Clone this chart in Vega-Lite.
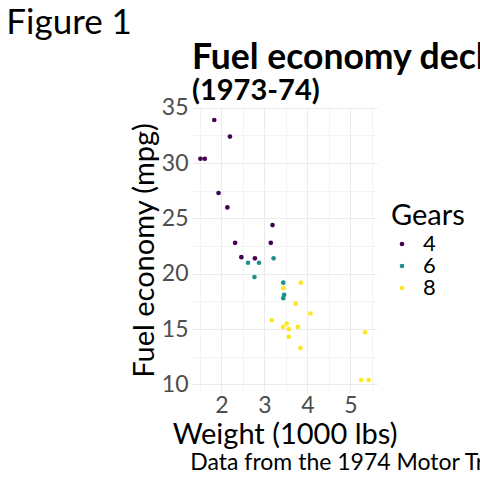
{
  "$schema": "https://vega.github.io/schema/vega-lite/v6.json",
  "padding": {"left": 6, "top": 6, "right": 0, "bottom": 0},
  "background": "white",
  "title": {"text": "Figure 1", "anchor": "start", "frame": "bounds", "fontSize": 35, "font": "Lato", "fontWeight": "normal", "color": "black", "dx": -124, "offset": 0},
  "vconcat": [
    {
      "title": {"text": "Data from the 1974 Motor Trend US magazine.", "orient": "bottom", "anchor": "start", "frame": "bounds", "dx": 60, "fontSize": 23, "font": "Lato", "fontWeight": "normal", "color": "black", "offset": 3},
      "vconcat": [
        {
          "title": {"text": "Fuel economy declined as weight increased", "subtitle": "(1973-74)", "anchor": "start", "frame": "group", "fontSize": 35.5, "font": "Lato", "fontWeight": "bold", "color": "black", "subtitleFont": "Lato", "subtitleFontSize": 29, "subtitleFontWeight": "bold", "subtitleColor": "black", "subtitlePadding": 0, "offset": -9},
          "width": 185,
          "height": 286,
          "data": {"values": [
            {"car": "Mazda RX4", "mpg": 21.0, "cyl": "6", "wt": 2.620},
            {"car": "Mazda RX4 Wag", "mpg": 21.0, "cyl": "6", "wt": 2.875},
            {"car": "Datsun 710", "mpg": 22.8, "cyl": "4", "wt": 2.320},
            {"car": "Hornet 4 Drive", "mpg": 21.4, "cyl": "6", "wt": 3.215},
            {"car": "Hornet Sportabout", "mpg": 18.7, "cyl": "8", "wt": 3.440},
            {"car": "Valiant", "mpg": 18.1, "cyl": "6", "wt": 3.460},
            {"car": "Duster 360", "mpg": 14.3, "cyl": "8", "wt": 3.570},
            {"car": "Merc 240D", "mpg": 24.4, "cyl": "4", "wt": 3.190},
            {"car": "Merc 230", "mpg": 22.8, "cyl": "4", "wt": 3.150},
            {"car": "Merc 280", "mpg": 19.2, "cyl": "6", "wt": 3.440},
            {"car": "Merc 280C", "mpg": 17.8, "cyl": "6", "wt": 3.440},
            {"car": "Merc 450SE", "mpg": 16.4, "cyl": "8", "wt": 4.070},
            {"car": "Merc 450SL", "mpg": 17.3, "cyl": "8", "wt": 3.730},
            {"car": "Merc 450SLC", "mpg": 15.2, "cyl": "8", "wt": 3.780},
            {"car": "Cadillac Fleetwood", "mpg": 10.4, "cyl": "8", "wt": 5.250},
            {"car": "Lincoln Continental", "mpg": 10.4, "cyl": "8", "wt": 5.424},
            {"car": "Chrysler Imperial", "mpg": 14.7, "cyl": "8", "wt": 5.345},
            {"car": "Fiat 128", "mpg": 32.4, "cyl": "4", "wt": 2.200},
            {"car": "Honda Civic", "mpg": 30.4, "cyl": "4", "wt": 1.615},
            {"car": "Toyota Corolla", "mpg": 33.9, "cyl": "4", "wt": 1.835},
            {"car": "Toyota Corona", "mpg": 21.5, "cyl": "4", "wt": 2.465},
            {"car": "Dodge Challenger", "mpg": 15.5, "cyl": "8", "wt": 3.520},
            {"car": "AMC Javelin", "mpg": 15.2, "cyl": "8", "wt": 3.435},
            {"car": "Camaro Z28", "mpg": 13.3, "cyl": "8", "wt": 3.840},
            {"car": "Pontiac Firebird", "mpg": 19.2, "cyl": "8", "wt": 3.845},
            {"car": "Fiat X1-9", "mpg": 27.3, "cyl": "4", "wt": 1.935},
            {"car": "Porsche 914-2", "mpg": 26.0, "cyl": "4", "wt": 2.140},
            {"car": "Lotus Europa", "mpg": 30.4, "cyl": "4", "wt": 1.513},
            {"car": "Ford Pantera L", "mpg": 15.8, "cyl": "8", "wt": 3.170},
            {"car": "Ferrari Dino", "mpg": 19.7, "cyl": "6", "wt": 2.770},
            {"car": "Maserati Bora", "mpg": 15.0, "cyl": "8", "wt": 3.570},
            {"car": "Volvo 142E", "mpg": 21.4, "cyl": "4", "wt": 2.780}
          ]},
          "mark": {"type": "circle", "size": 22, "opacity": 1},
          "encoding": {
            "x": {"field": "wt", "type": "quantitative", "title": "Weight (1000 lbs)",
              "scale": {"domain": [1.3175, 5.6196], "nice": false, "zero": false},
              "axis": {"values": [1.5, 2, 2.5, 3, 3.5, 4, 4.5, 5, 5.5], "format": "~g", "labelExpr": "datum.value % 1 === 0 ? datum.label : ''", "labelPadding": 1, "titlePadding": 3,
                "gridColor": {"condition": {"test": "datum.value % 1 !== 0", "value": "#F3F3F3"}, "value": "#EBEBEB"}}},
            "y": {"field": "mpg", "type": "quantitative", "title": "Fuel economy (mpg)",
              "scale": {"domain": [9.225, 35.075], "nice": false, "zero": false},
              "axis": {"values": [10, 12.5, 15, 17.5, 20, 22.5, 25, 27.5, 30, 32.5, 35], "format": "~g", "labelExpr": "datum.value % 5 === 0 ? datum.label : ''", "labelPadding": 4, "titlePadding": 2,
                "gridColor": {"condition": {"test": "datum.value % 5 !== 0", "value": "#F3F3F3"}, "value": "#EBEBEB"}}},
            "color": {"field": "cyl", "type": "nominal", "title": "Gears",
              "scale": {"domain": ["4", "6", "8"], "range": ["#440154", "#21908C", "#FDE725"]},
              "legend": {"orient": "none", "legendX": 199, "legendY": 95}}
          }
        }
      ]
    }
  ],
  "config": {
    "font": "Lato",
    "view": {"stroke": null},
    "axis": {"domain": false, "ticks": false, "grid": true, "gridWidth": 1, "labelFont": "Lato", "labelFontSize": 23, "labelColor": "#4D4D4D", "titleFont": "Lato", "titleFontSize": 29, "titleFontWeight": "normal", "titleColor": "black", "labelOverlap": false, "labelFlush": false},
    "legend": {"titleFont": "Lato", "titleFontSize": 29, "titleFontWeight": "normal", "titleColor": "black", "labelFont": "Lato", "labelFontSize": 22, "labelColor": "black", "symbolSize": 22, "symbolType": "circle", "rowPadding": 0, "titlePadding": 2, "labelOffset": 10},
    "concat": {"spacing": 0}
  }
}
